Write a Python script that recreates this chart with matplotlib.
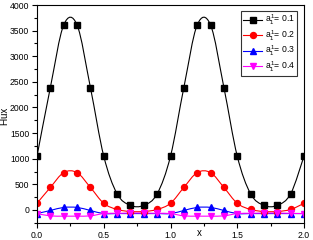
import numpy as np
import matplotlib
matplotlib.use("Agg")
from matplotlib import pyplot as plt
from matplotlib.path import Path
from matplotlib.patches import PathPatch
from matplotlib.lines import Line2D
from matplotlib.ticker import MultipleLocator, FormatStrFormatter

plt.rcParams['font.family'] = ['Liberation Sans', 'DejaVu Sans']
plt.rcParams['mathtext.fontset'] = 'custom'
plt.rcParams['mathtext.rm'] = 'Liberation Sans'
plt.rcParams['mathtext.it'] = 'Liberation Sans'

x = [0.0, 0.1, 0.2, 0.3, 0.4, 0.5, 0.6, 0.7, 0.8, 0.9, 1.0,
     1.1, 1.2, 1.3, 1.4, 1.5, 1.6, 1.7, 1.8, 1.9, 2.0]
flux_01 = [1050, 2390, 3610, 3610, 2390, 1050, 315, 90, 90, 315, 1050,
           2390, 3610, 3610, 2390, 1050, 315, 90, 90, 315, 1050]
flux_02 = [130, 440, 730, 730, 440, 130, 10, -30, -30, 10, 130,
           440, 730, 730, 440, 130, 10, -30, -30, 10, 130]
flux_03 = [-70, -10, 50, 50, -10, -70, -70, -70, -70, -70, -70,
           -10, 50, 50, -10, -70, -70, -70, -70, -70, -70]
flux_04 = [-70, -115, -120, -120, -115, -70, -65, -60, -60, -65, -70,
           -115, -120, -120, -115, -70, -65, -60, -60, -65, -70]
labels = [r'$a_1^1$= 0.1', r'$a_1^1$= 0.2', r'$a_1^1$= 0.3', r'$a_1^1$= 0.4']
colors = ['black', 'red', 'blue', 'magenta']
markers = ['s', 'o', '^', 'v']


def smooth_path(xs, ys):
    # cubic bezier through the points (catmull-rom tangents)
    xs, ys = np.asarray(xs, float), np.asarray(ys, float)
    verts = [(xs[0], ys[0])]
    codes = [Path.MOVETO]
    n = len(xs)
    for i in range(n - 1):
        p0 = i - 1 if i > 0 else i
        p3 = i + 2 if i + 2 < n else i + 1
        c1 = (xs[i] + (xs[i + 1] - xs[p0]) / 6, ys[i] + (ys[i + 1] - ys[p0]) / 6)
        c2 = (xs[i + 1] - (xs[p3] - xs[i]) / 6, ys[i + 1] - (ys[p3] - ys[i]) / 6)
        verts += [c1, c2, (xs[i + 1], ys[i + 1])]
        codes += [Path.CURVE4] * 3
    return Path(verts, codes)


fig = plt.figure(figsize=(3.13, 2.40), dpi=100)
ax = fig.add_axes([37 / 313, 17 / 240, 267 / 313, 218 / 240])

series = [flux_01, flux_02, flux_03, flux_04]
handles = []
for ys, c, m, lab in zip(series, colors, markers, labels):
    ax.add_patch(PathPatch(smooth_path(x, ys), facecolor='none', edgecolor=c, lw=0.8))
    ax.plot(x, ys, ls='none', marker=m, color=c, ms=4.3)
    handles.append(Line2D([], [], color=c, marker=m, ms=4.3, lw=0.8, label=lab))

ax.set_xlim(0, 2.0)
ax.set_ylim(-254, 4000)
ax.xaxis.set_major_locator(MultipleLocator(0.5))
ax.xaxis.set_minor_locator(MultipleLocator(0.25))
ax.xaxis.set_major_formatter(FormatStrFormatter('%.1f'))
ax.yaxis.set_major_locator(MultipleLocator(500))
ax.yaxis.set_minor_locator(MultipleLocator(250))
ax.tick_params(which='both', direction='out', labelsize=6.2, pad=2, width=0.8)
ax.tick_params(which='major', length=3.5)
ax.tick_params(which='minor', length=2)
for s in ax.spines.values():
    s.set_linewidth(0.8)

ax.set_ylabel('Flux', fontsize=7)
ax.yaxis.set_label_coords(-0.105, 0.49)
ax.set_xlabel('x', fontsize=7, va='center')
ax.xaxis.set_label_coords(0.607, -0.045)

leg = ax.legend(handles=handles, loc='upper left', bbox_to_anchor=(241 / 313, 1 - 11 / 240),
                bbox_transform=fig.transFigure, fontsize=6.2, frameon=True, fancybox=False,
                edgecolor='black', handlelength=2.2, handletextpad=0.3, borderpad=0.25,
                labelspacing=0.15, borderaxespad=0)
leg.get_frame().set_linewidth(0.8)

fig.savefig('out.png', dpi=100)
